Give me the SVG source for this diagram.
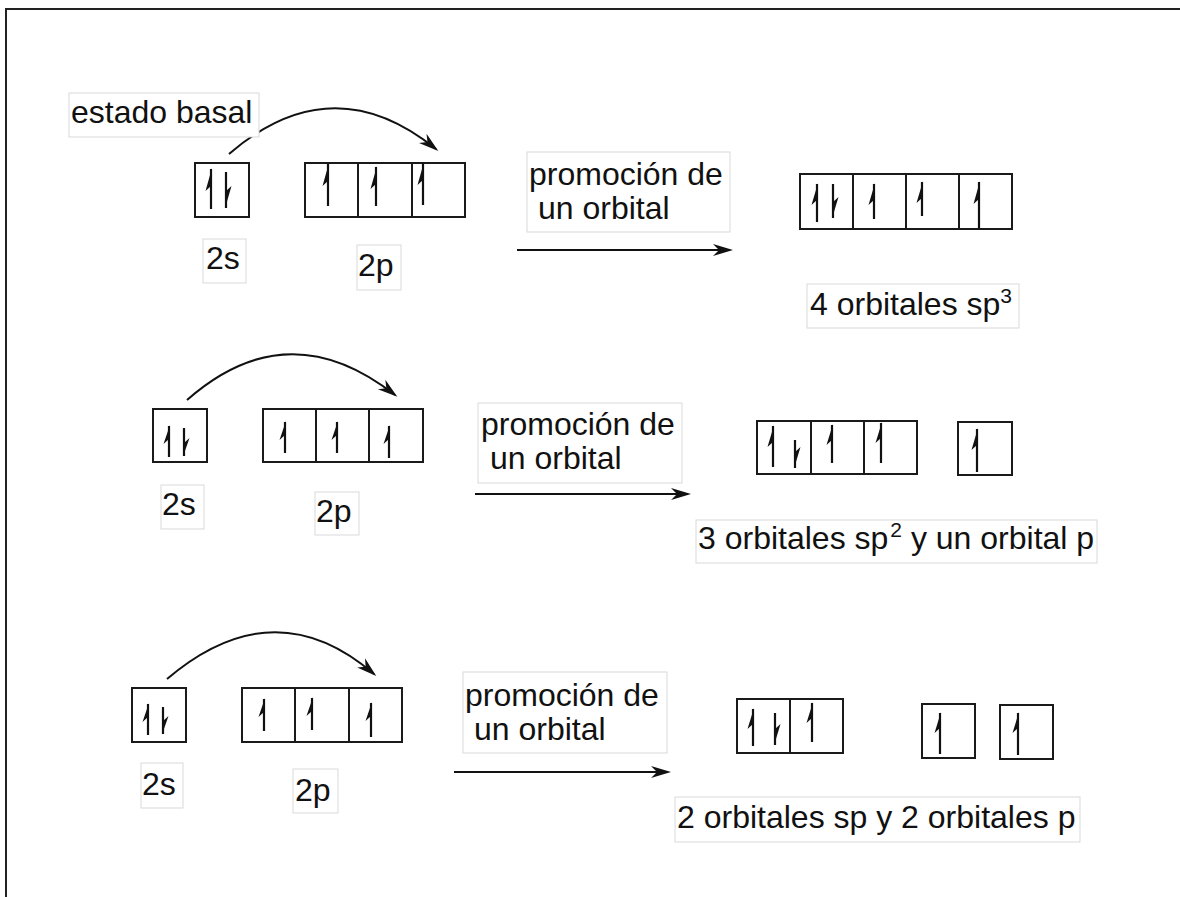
<svg xmlns="http://www.w3.org/2000/svg" width="1180" height="897" viewBox="0 0 1180 897">
<defs>
<style>
.box{fill:#fff;stroke:#1a1a1a;stroke-width:2}
.div{stroke:#1a1a1a;stroke-width:2}
.lbl{fill:#fff;stroke:#d9d9d9;stroke-width:1}
.t{font-family:"Liberation Sans",Arial,sans-serif;font-size:32px;fill:#111}
.sh{stroke:#111;stroke-width:2.2;fill:none}
.bb{fill:#111}
.conn{fill:none;stroke:#111;stroke-width:2;marker-end:url(#ah)}
</style>
<marker id="ah" markerUnits="userSpaceOnUse" markerWidth="24" markerHeight="16" viewBox="-22 -8 24 16" refX="-3" refY="0" orient="auto">
<path d="M0,0 L-20,-6 L-14,0 L-20,6 Z" fill="#111"/>
</marker>
</defs>
<rect width="1180" height="897" fill="#fff"/>
<path d="M6,897 V9 H1180" fill="none" stroke="#222" stroke-width="2"/>

<g id="connectors">
<path class="conn" d="M229,154 Q332,65 436,149"/>
<path class="conn" d="M187,400 Q288,311 395,395"/>
<path class="conn" d="M167,679 Q274,588 374,674"/>
<line class="conn" x1="517" y1="250" x2="730" y2="250"/>
<line class="conn" x1="475" y1="494" x2="688" y2="494"/>
<line class="conn" x1="454" y1="772" x2="668" y2="772"/>
</g>

<!-- Row 1 -->
<g id="r1-basal"><rect class="lbl" x="69" y="93" width="190" height="44"/><text class="t" x="71" y="123">estado basal</text></g>
<g id="r1-2s">
<rect class="box" x="195" y="163" width="54" height="54"/>
<path class="sh" d="M211,209 V169 M226,172 V208"/>
<path class="bb" d="M212,168 L205.5,191 L211,186 Z M225,208.5 L231.5,186 L226,191 Z"/>
</g>
<g id="r1-2p">
<rect class="box" x="305" y="163" width="160" height="54"/>
<path class="div" d="M358,163 V217 M412,163 V217"/>
<path class="sh" d="M328,206 V164 M376,206 V167 M423,205 V163"/>
<path class="bb" d="M329,163 L322.5,186 L328,181 Z M377,166 L370.5,189 L376,184 Z M424,162 L417.5,185 L423,180 Z"/>
</g>
<g id="r1-2s-lbl"><rect class="lbl" x="203" y="239" width="43" height="44"/><text class="t" x="206" y="269">2s</text></g>
<g id="r1-2p-lbl"><rect class="lbl" x="357" y="245" width="44" height="45"/><text class="t" x="358" y="276">2p</text></g>
<g id="r1-promo"><rect class="lbl" x="527" y="152" width="203" height="80"/><text class="t" x="529" y="185">promoción de</text><text class="t" x="538" y="219">un orbital</text></g>
<g id="r1-sp3">
<rect class="box" x="800" y="174" width="212" height="55"/>
<path class="div" d="M853,174 V229 M906,174 V229 M959,174 V229"/>
<path class="sh" d="M817,222 V184 M833,184 V218 M874,219 V184 M922,216 V182 M979,228 V182"/>
<path class="bb" d="M818,183 L811.5,205 L817,200 Z M832,218.5 L838.5,197 L833,202 Z M875,183 L868.5,205 L874,200 Z M923,181 L916.5,203 L922,198 Z M980,181 L973.5,204 L979,199 Z"/>
</g>
<g id="r1-sp3-lbl"><rect class="lbl" x="807" y="284" width="212" height="44"/><text class="t" x="810" y="315">4 orbitales sp<tspan font-size="21" dy="-12">3</tspan></text></g>

<!-- Row 2 -->
<g id="r2-2s">
<rect class="box" x="153" y="409" width="54" height="53"/>
<path class="sh" d="M169,457 V426 M184,428 V456"/>
<path class="bb" d="M170,425 L163.5,444 L169,439 Z M183,456.5 L189.5,438 L184,443 Z"/>
</g>
<g id="r2-2p">
<rect class="box" x="263" y="409" width="160" height="53"/>
<path class="div" d="M316,409 V462 M369,409 V462"/>
<path class="sh" d="M285,453 V422 M337,453 V422 M389,458 V426"/>
<path class="bb" d="M286,421 L279.5,440 L285,435 Z M338,421 L331.5,440 L337,435 Z M390,425 L383.5,444 L389,439 Z"/>
</g>
<g id="r2-2s-lbl"><rect class="lbl" x="161" y="485" width="43" height="44"/><text class="t" x="162" y="515">2s</text></g>
<g id="r2-2p-lbl"><rect class="lbl" x="315" y="492" width="44" height="43"/><text class="t" x="316" y="522">2p</text></g>
<g id="r2-promo"><rect class="lbl" x="478" y="403" width="204" height="80"/><text class="t" x="481" y="435">promoción de</text><text class="t" x="490" y="469">un orbital</text></g>
<g id="r2-sp2">
<rect class="box" x="757" y="421" width="160" height="53"/>
<path class="div" d="M811,421 V474 M864,421 V474"/>
<path class="sh" d="M773,467 V426 M795,440 V468 M832,463 V425 M881,463 V423"/>
<path class="bb" d="M774,425 L767.5,447 L773,442 Z M794,468.5 L800.5,447 L795,452 Z M833,424 L826.5,445 L832,440 Z M882,422 L875.5,443 L881,438 Z"/>
</g>
<g id="r2-p">
<rect class="box" x="958" y="422" width="54" height="53"/>
<path class="sh" d="M977,472 V429"/>
<path class="bb" d="M978,428 L971.5,450 L977,445 Z"/>
</g>
<g id="r2-sp2-lbl"><rect class="lbl" x="696" y="520" width="401" height="43"/><text class="t" x="698" y="549">3 orbitales sp<tspan font-size="21" dx="2" dy="-12">2</tspan><tspan dy="12"> y un orbital p</tspan></text></g>

<!-- Row 3 -->
<g id="r3-2s">
<rect class="box" x="132" y="688" width="54" height="54"/>
<path class="sh" d="M148,735 V704 M163,707 V734"/>
<path class="bb" d="M149,703 L142.5,722 L148,717 Z M162,734.5 L168.5,716 L163,721 Z"/>
</g>
<g id="r3-2p">
<rect class="box" x="242" y="688" width="160" height="54"/>
<path class="div" d="M295,688 V742 M349,688 V742"/>
<path class="sh" d="M264,731 V699 M312,730 V698 M371,737 V703"/>
<path class="bb" d="M265,698 L258.5,717 L264,712 Z M313,697 L306.5,716 L312,711 Z M372,702 L365.5,721 L371,716 Z"/>
</g>
<g id="r3-2s-lbl"><rect class="lbl" x="141" y="763" width="42" height="45"/><text class="t" x="142" y="795">2s</text></g>
<g id="r3-2p-lbl"><rect class="lbl" x="293" y="769" width="45" height="44"/><text class="t" x="295" y="801">2p</text></g>
<g id="r3-promo"><rect class="lbl" x="463" y="672" width="204" height="81"/><text class="t" x="465" y="706">promoción de</text><text class="t" x="474" y="740">un orbital</text></g>
<g id="r3-sp">
<rect class="box" x="737" y="699" width="106" height="54"/>
<path class="div" d="M790,699 V753"/>
<path class="sh" d="M753,746 V709 M775,713 V745 M812,742 V703"/>
<path class="bb" d="M754,708 L747.5,729 L753,724 Z M774,745.5 L780.5,724 L775,729 Z M813,702 L806.5,723 L812,718 Z"/>
</g>
<g id="r3-p1">
<rect class="box" x="922" y="704" width="53" height="54"/>
<path class="sh" d="M940,754 V713"/>
<path class="bb" d="M941,712 L934.5,733 L940,728 Z"/>
</g>
<g id="r3-p2">
<rect class="box" x="1000" y="705" width="53" height="54"/>
<path class="sh" d="M1018,755 V713"/>
<path class="bb" d="M1019,712 L1012.5,733 L1018,728 Z"/>
</g>
<g id="r3-sp-lbl"><rect class="lbl" x="675" y="797" width="405" height="45"/><text class="t" x="677" y="828">2 orbitales sp y 2 orbitales p</text></g>
</svg>
